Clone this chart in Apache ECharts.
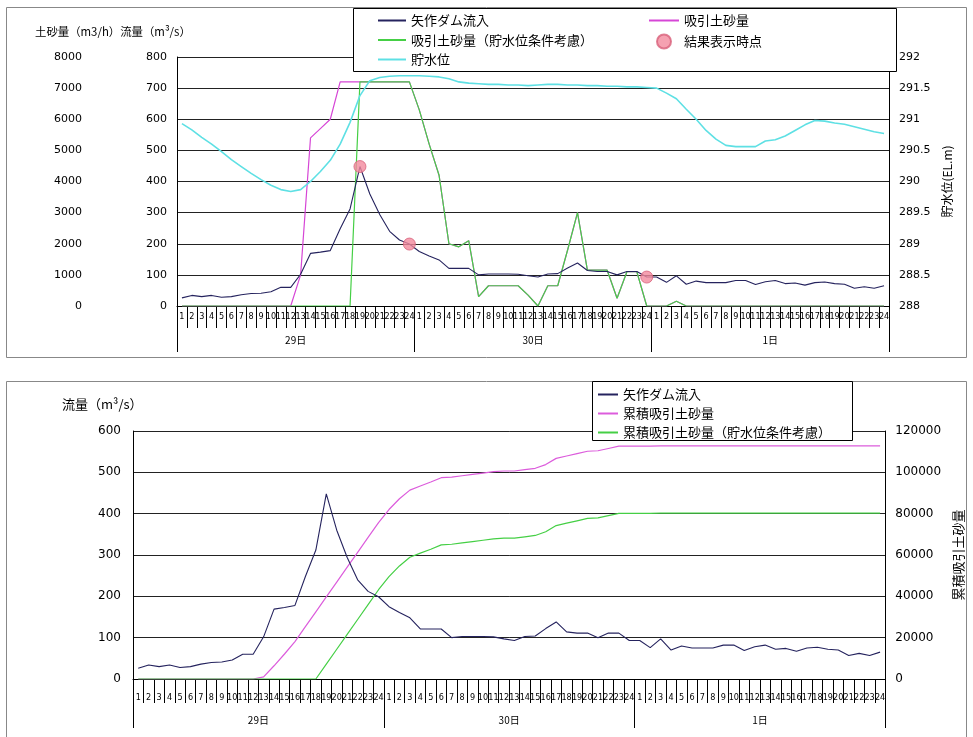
<!DOCTYPE html>
<html>
<head>
<meta charset="utf-8">
<script src="https://cdn.jsdelivr.net/npm/echarts@6/dist/echarts.min.js"></script>
<style>
html,body{margin:0;padding:0;background:#fff}
#chart{width:973px;height:737px}
</style>
</head>
<body>
<div id="chart"></div>
<script>
// 日付と時刻（カテゴリ）
const days = ['29日', '30日', '1日'];
const hours = ['1','2','3','4','5','6','7','8','9','10','11','12','13','14','15','16','17','18','19','20','21','22','23','24'];

// 矢作ダム流入量 (m3/s)
const inflow = [26,34,30,34,28,30,36,40,41,46,60,60,102,169,173,178,248,312,448,360,294,240,212,199,
  175,161,148,121,121,121,100,103,103,103,102,97,93,103,104,122,138,114,111,111,100,111,111,93,
  93,76,97,70,80,75,75,75,82,82,69,78,82,72,74,67,75,77,72,70,57,62,57,65];

// 吸引土砂量 (m3/h)
const suction = [0,0,0,0,0,0,0,0,0,0,0,0,1000,5400,5700,6000,7200,7200,7200,7200,7200,7200,7200,7200,
  6300,5200,4200,2000,1900,2100,300,650,650,650,650,350,0,650,650,1800,3000,1150,1150,1150,250,1100,1100,0,
  0,0,150,0,0,0,0,0,0,0,0,0,0,0,0,0,0,0,0,0,0,0,0,0];

// 吸引土砂量（貯水位条件考慮） (m3/h)
const suctionLimited = [0,0,0,0,0,0,0,0,0,0,0,0,0,0,0,0,0,0,7200,7200,7200,7200,7200,7200,
  6300,5200,4200,2000,1900,2100,300,650,650,650,650,350,0,650,650,1800,3000,1150,1150,1150,250,1100,1100,0,
  0,0,150,0,0,0,0,0,0,0,0,0,0,0,0,0,0,0,0,0,0,0,0,0];

// 貯水位 (EL.m)
const waterLevel = [290.93,290.83,290.71,290.6,290.48,290.35,290.24,290.13,290.03,289.94,289.87,289.84,
  289.87,290.0,290.16,290.34,290.6,290.95,291.38,291.62,291.67,291.69,291.7,291.7,
  291.7,291.69,291.68,291.65,291.6,291.58,291.57,291.56,291.56,291.55,291.55,291.54,
  291.55,291.56,291.56,291.55,291.55,291.54,291.54,291.53,291.53,291.52,291.52,291.51,
  291.5,291.42,291.33,291.16,291.0,290.82,290.68,290.58,290.56,290.56,290.56,290.65,
  290.67,290.73,290.82,290.91,290.98,290.97,290.94,290.92,290.88,290.84,290.8,290.77];

// 結果表示時点（時刻の通し番号）
const resultPoints = [18, 23, 47];

// 累積吸引土砂量 (m3)
const cumSuction = [0,0,0,0,0,0,0,0,0,0,0,0,1000,6400,12100,18100,25300,32500,39700,46900,54100,61300,68500,75700,
  82000,87200,91400,93400,95300,97400,97700,98350,99000,99650,100300,100650,100650,101300,101950,103750,106750,107900,109050,110200,110450,111550,112650,112650,
  112650,112650,112800,112800,112800,112800,112800,112800,112800,112800,112800,112800,112800,112800,112800,112800,112800,112800,112800,112800,112800,112800,112800,112800];

// 累積吸引土砂量（貯水位条件考慮） (m3)
const cumSuctionLimited = [0,0,0,0,0,0,0,0,0,0,0,0,0,0,0,0,0,0,7200,14400,21600,28800,36000,43200,
  49500,54700,58900,60900,62800,64900,65200,65850,66500,67150,67800,68150,68150,68800,69450,71250,74250,75400,76550,77700,77950,79050,80150,80150,
  80150,80150,80300,80300,80300,80300,80300,80300,80300,80300,80300,80300,80300,80300,80300,80300,80300,80300,80300,80300,80300,80300,80300,80300];

const cats = [];
days.forEach(d => hours.forEach(h => cats.push(d + h + '時')));

const CJK = "'Noto Sans CJK JP', sans-serif";
const NUM = "'DejaVu Sans', sans-serif";
const HOURF = "'Liberation Sans Narrow', 'DejaVu Sans Condensed', 'Liberation Sans', sans-serif";

const NAVY = '#25235e';
const MAGENTA = '#d646d6';
const GREEN = '#45cf45';
const CYAN = '#5ee0e4';

const plain = v => String(v);

function hourAxis(grid, tickLen, margin) {
  return {
    type: 'category', gridIndex: grid, data: cats, boundaryGap: true, position: 'bottom',
    axisLine: { show: true, lineStyle: { color: '#000', width: 1 } },
    axisTick: { show: true, interval: 0, length: tickLen, lineStyle: { color: '#000' } },
    axisLabel: { interval: 0, margin: margin, fontSize: 9, fontFamily: HOURF, color: '#000',
      formatter: (v, i) => hours[i % 24] },
    splitLine: { show: false }
  };
}
function dayAxis(grid, tickLen, margin) {
  return {
    type: 'category', gridIndex: grid, data: days, boundaryGap: true, position: 'bottom',
    axisLine: { show: false },
    axisTick: { show: true, interval: 0, length: tickLen, lineStyle: { color: '#000' } },
    axisLabel: { interval: 0, margin: margin, fontSize: 10, fontFamily: CJK, color: '#000' },
    splitLine: { show: false }
  };
}
function valueAxis(grid, min, max, step, pos, extra) {
  return Object.assign({
    type: 'value', gridIndex: grid, min: min, max: max, interval: step, position: pos,
    axisLine: { show: true, lineStyle: { color: '#000' } },
    axisTick: { show: false },
    axisLabel: { fontSize: 11, margin: 10, fontFamily: NUM, color: '#000', formatter: plain },
    splitLine: { show: false }
  }, extra || {});
}
function lineSeries(name, x, y, data, color, width, z) {
  return {
    name: name, type: 'line', xAxisIndex: x, yAxisIndex: y, data: data,
    symbol: 'none', smooth: false, z: z,
    lineStyle: { color: color, width: width }, itemStyle: { color: color }
  };
}
const legendText = { fontSize: 13, fontFamily: CJK, color: '#000' };
// line-only legend icons: hide the marker drawn in the middle of the sample line
const lineOnly = { color: 'rgba(0,0,0,0)', borderColor: 'rgba(0,0,0,0)', borderWidth: 0 };

const chart = echarts.init(document.getElementById('chart'), null, { renderer: 'canvas' });
chart.setOption({
  animation: false,
  backgroundColor: '#fff',
  grid: [
    { left: 177, right: 84, top: 57, height: 249 },
    { left: 133, right: 84, top: 431, height: 248 }
  ],
  xAxis: [
    hourAxis(0, 22, 6),
    dayAxis(0, 46, 29),
    hourAxis(1, 24, 14),
    dayAxis(1, 49, 36)
  ],
  yAxis: [
    valueAxis(0, 0, 800, 100, 'left', {
      splitLine: { show: true, lineStyle: { color: '#222', width: 1 } }
    }),
    valueAxis(0, 0, 8000, 1000, 'left', { offset: 85, axisLine: { show: false } }),
    valueAxis(0, 288, 292, 0.5, 'right', {
      name: '貯水位(EL.m)', nameLocation: 'middle', nameRotate: 90, nameGap: 37,
      nameTextStyle: { fontSize: 12, fontFamily: CJK, color: '#000' }
    }),
    valueAxis(1, 0, 600, 100, 'left', {
      axisLabel: { fontSize: 12, margin: 12, fontFamily: NUM, color: '#000', formatter: plain },
      splitLine: { show: true, lineStyle: { color: '#222', width: 1 } }
    }),
    valueAxis(1, 0, 120000, 20000, 'right', {
      axisLabel: { fontSize: 12, margin: 10, fontFamily: NUM, color: '#000', formatter: plain },
      name: '累積吸引土砂量', nameLocation: 'middle', nameRotate: 90, nameGap: 60,
      nameTextStyle: { fontSize: 13, fontFamily: CJK, color: '#000' }
    })
  ],
  legend: [
    { left: 377, top: 14, orient: 'vertical', padding: 0, itemWidth: 28, itemHeight: 14, itemGap: 6.5,
      selectedMode: false, textStyle: legendText, z: 10, itemStyle: lineOnly,
      data: ['矢作ダム流入', '吸引土砂量（貯水位条件考慮）', '貯水位'] },
    { left: 648, top: 14, orient: 'vertical', padding: 0, itemWidth: 30, itemHeight: 14, itemGap: 6.5,
      selectedMode: false, textStyle: legendText, z: 10,
      data: [{ name: '吸引土砂量', itemStyle: lineOnly }, { name: '結果表示時点' }] },
    { left: 597, top: 388, orient: 'vertical', padding: 0, itemWidth: 20, itemHeight: 14, itemGap: 6,
      selectedMode: false, textStyle: legendText, z: 10, itemStyle: lineOnly,
      data: ['矢作ダム流入', '累積吸引土砂量', '累積吸引土砂量（貯水位条件考慮）'] }
  ],
  graphic: [
    { type: 'rect', z: 1, shape: { x: 6.5, y: 7.5, width: 960, height: 350 },
      style: { fill: 'none', stroke: '#888', lineWidth: 1 } },
    { type: 'rect', z: 1, shape: { x: 6.5, y: 381.5, width: 960, height: 360 },
      style: { fill: 'none', stroke: '#888', lineWidth: 1 } },
    { type: 'rect', z: 8, shape: { x: 353.5, y: 8.5, width: 543, height: 63 },
      style: { fill: '#fff', stroke: '#000', lineWidth: 1 } },
    { type: 'rect', z: 8, shape: { x: 592.5, y: 381.5, width: 260, height: 59 },
      style: { fill: '#fff', stroke: '#000', lineWidth: 1 } },
    { type: 'text', z: 9, left: 35, top: 26,
      style: { text: '土砂量（m3/h）流量（m³/s）', font: "11.4px 'Noto Sans CJK JP'", fill: '#000' } },
    { type: 'text', z: 9, left: 62, top: 398,
      style: { text: '流量（m³/s）', font: "13px 'Noto Sans CJK JP'", fill: '#000' } }
  ],
  series: [
    lineSeries('吸引土砂量', 0, 1, suction, MAGENTA, 1.2, 2),
    lineSeries('吸引土砂量（貯水位条件考慮）', 0, 1, suctionLimited, GREEN, 1.2, 3),
    lineSeries('貯水位', 0, 2, waterLevel, CYAN, 1.6, 3),
    lineSeries('矢作ダム流入', 0, 0, inflow, NAVY, 1.1, 4),
    {
      name: '結果表示時点', type: 'scatter', xAxisIndex: 0, yAxisIndex: 0, z: 6,
      symbol: 'circle', symbolSize: 12,
      data: resultPoints.map(i => [i, inflow[i]]),
      itemStyle: { color: '#f28a9e', borderColor: '#d8607a', borderWidth: 1 }
    },
    lineSeries('累積吸引土砂量', 2, 4, cumSuction, '#dc5cdc', 1.2, 2),
    lineSeries('累積吸引土砂量（貯水位条件考慮）', 2, 4, cumSuctionLimited, GREEN, 1.2, 3),
    lineSeries('矢作ダム流入', 2, 3, inflow, NAVY, 1.1, 4)
  ]
});
</script>
</body>
</html>
